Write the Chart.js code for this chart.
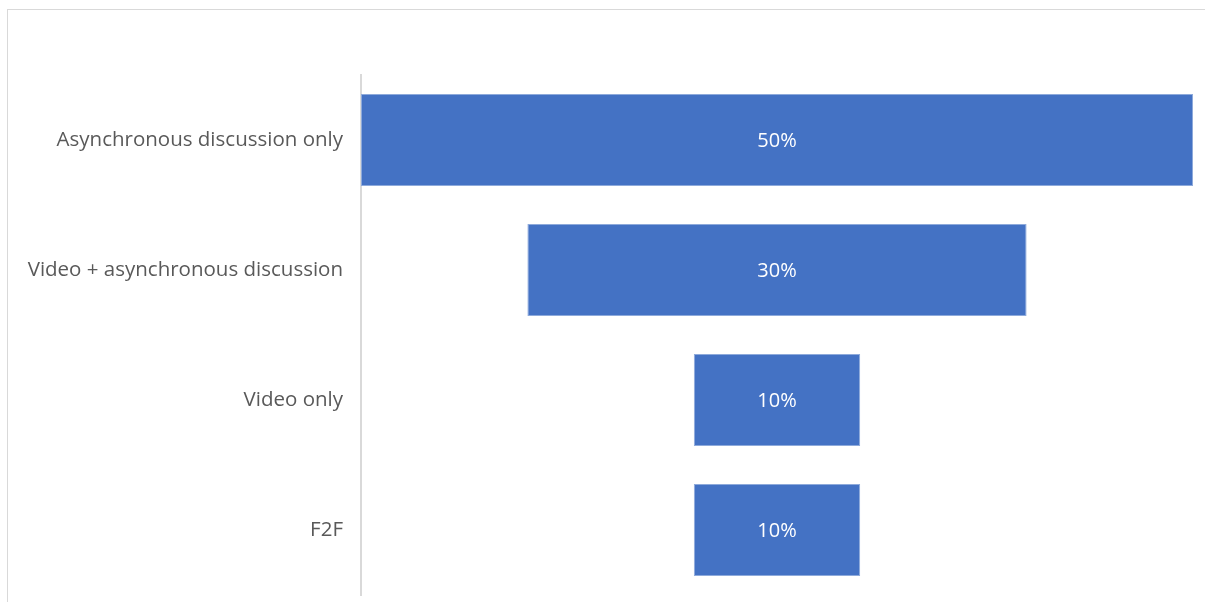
<!DOCTYPE html>
<html>
<head>
<meta charset="utf-8">
<script src="https://cdn.jsdelivr.net/npm/chart.js@4/dist/chart.umd.min.js"></script>
<style>
  html, body { margin: 0; padding: 0; background: #fff; overflow: hidden; }
  .frame {
    position: absolute; left: 7px; top: 9px;
    width: 1300px; height: 700px;
    border: 1px solid #d9d9d9;
  }
  #funnel { position: absolute; left: 0; top: 0; }
</style>
</head>
<body>
<div class="frame"></div>
<canvas id="funnel" width="1205" height="602"></canvas>
<script>
// funnel stages, top to bottom
const stages = ["Asynchronous discussion only", "Video + asynchronous discussion", "Video only", "F2F"];
const shares = [50, 30, 10, 10];

// each bar is centred on the middle of the widest one
const widest = Math.max(...shares);
const spans = shares.map(v => [(widest - v) / 2, (widest + v) / 2]);

// write the share inside each bar
const barLabels = {
  id: "barLabels",
  afterDatasetsDraw(chart) {
    const ctx = chart.ctx;
    const meta = chart.getDatasetMeta(0);
    ctx.save();
    ctx.fillStyle = "#ffffff";
    ctx.font = "20px 'Open Sans', sans-serif";
    ctx.textAlign = "center";
    ctx.textBaseline = "middle";
    meta.data.forEach((bar, i) => {
      const p = bar.getProps(["x", "base", "y"], true);
      ctx.fillText(shares[i] + "%", (p.x + p.base) / 2, p.y + 1);
    });
    ctx.restore();
  }
};

new Chart(document.getElementById("funnel"), {
  type: "bar",
  data: {
    labels: stages,
    datasets: [{
      data: spans,
      backgroundColor: "#4472c4",
      borderColor: "#8eaadb",
      borderWidth: 1,
      borderSkipped: false,
      categoryPercentage: 1,
      barPercentage: 0.708
    }]
  },
  options: {
    indexAxis: "y",
    responsive: false,
    animation: false,
    layout: { padding: { left: 0, right: 12, top: 75, bottom: 7 } },
    plugins: {
      legend: { display: false },
      tooltip: { enabled: false }
    },
    scales: {
      x: { display: false, min: 0, max: widest },
      y: {
        afterFit(scale) {
          // fixed label column, and no extra room above/below the axis
          scale.width = 361;
          scale.paddingTop = 0;
          scale.paddingBottom = 0;
        },
        grid: { display: false, drawTicks: false },
        border: { display: true, color: "#d9d9d9", width: 2 },
        ticks: {
          padding: 18,
          color: "#595959",
          font: { family: "'Open Sans', sans-serif", size: 20.5 }
        }
      }
    }
  },
  plugins: [barLabels]
});
</script>
</body>
</html>
